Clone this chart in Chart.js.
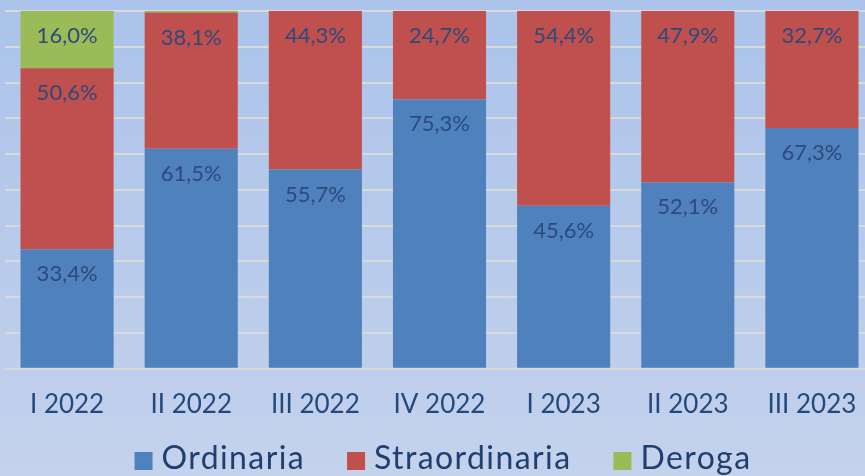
<!DOCTYPE html>
<html>
<head>
<meta charset="utf-8">
<script src="https://cdn.jsdelivr.net/npm/chart.js@4"></script>
<style>
  html, body { margin: 0; padding: 0; overflow: hidden; width: 865px; height: 476px; }
  body { background: linear-gradient(to bottom, #abc3ea, #c4d2ec); }
  #wrap { width: 880px; height: 476px; }
</style>
</head>
<body>
<div id="wrap"><canvas id="quotaChart" width="880" height="476"></canvas></div>
<script>
const labels = ['I 2022', 'II 2022', 'III 2022', 'IV 2022', 'I 2023', 'II 2023', 'III 2023'];
const ordinaria = [33.4, 61.5, 55.7, 75.3, 45.6, 52.1, 67.3];
const straordinaria = [50.6, 38.1, 44.3, 24.7, 54.4, 47.9, 32.7];
const deroga = [16.0, 0.4, 0, 0, 0, 0, 0];

const fontFamily = 'Lato, "Open Sans", sans-serif';

// write the value just under the top of each segment, like excel "inside end"
const insideEndLabels = {
    id: 'insideEndLabels',
    afterDatasetsDraw(chart) {
        const ctx = chart.ctx;
        ctx.save();
        ctx.font = '22px ' + fontFamily;
        ctx.fillStyle = '#2c4a7c';
        ctx.textAlign = 'center';
        ctx.textBaseline = 'middle';
        chart.data.datasets.forEach((ds, i) => {
            const meta = chart.getDatasetMeta(i);
            meta.data.forEach((bar, j) => {
                const v = ds.data[j];
                if (v < 5) return;
                ctx.fillText(v.toFixed(1).replace('.', ',') + '%', bar.x, bar.y + 25);
            });
        });
        ctx.restore();
    }
};

// legend drawn by hand: excel spacing is tighter box->text and wider between items
const bottomLegend = {
    id: 'bottomLegend',
    afterDraw(chart) {
        const ctx = chart.ctx;
        const box = 18, gapText = 9, gapItem = 42, y = 459;
        ctx.save();
        ctx.font = '32px ' + fontFamily;
        ctx.letterSpacing = '1.4px';
        ctx.textBaseline = 'middle';
        const items = chart.data.datasets.map(ds => ({
            text: ds.label, color: ds.backgroundColor, w: ctx.measureText(ds.label).width
        }));
        let total = items.reduce((s, it) => s + box + gapText + it.w, 0) + gapItem * (items.length - 1);
        let x = 443 - total / 2;
        items.forEach(it => {
            ctx.fillStyle = it.color;
            ctx.fillRect(x, 452, box, box);
            x += box + gapText;
            ctx.fillStyle = '#1f3f6f';
            ctx.fillText(it.text, x, y);
            x += it.w + gapItem;
        });
        ctx.restore();
    }
};

const ctx = document.getElementById('quotaChart').getContext('2d');
const quotaChart = new Chart(ctx, {
    type: 'bar',
    data: {
        labels: labels,
        datasets: [
            { label: 'Ordinaria', data: ordinaria, backgroundColor: '#4f81bd' },
            { label: 'Straordinaria', data: straordinaria, backgroundColor: '#c0504d' },
            { label: 'Deroga', data: deroga, backgroundColor: '#9bbb59' }
        ]
    },
    options: {
        responsive: false,
        animation: false,
        categoryPercentage: 1,
        barPercentage: 0.75,
        layout: { padding: { left: 5, right: 6, top: 11, bottom: 44 } },
        plugins: {
            tooltip: { enabled: false },
            legend: { display: false }
        },
        scales: {
            x: {
                stacked: true,
                grid: { display: false },
                border: { display: false },
                ticks: {
                    font: { family: fontFamily, size: 26 },
                    color: '#24497c',
                    padding: 12
                }
            },
            y: {
                stacked: true,
                min: 0,
                max: 100,
                ticks: { display: false, stepSize: 10 },
                border: { display: false },
                grid: { color: '#d9d9d9', lineWidth: 2, drawTicks: false }
            }
        }
    },
    plugins: [insideEndLabels, bottomLegend]
});
</script>
</body>
</html>
